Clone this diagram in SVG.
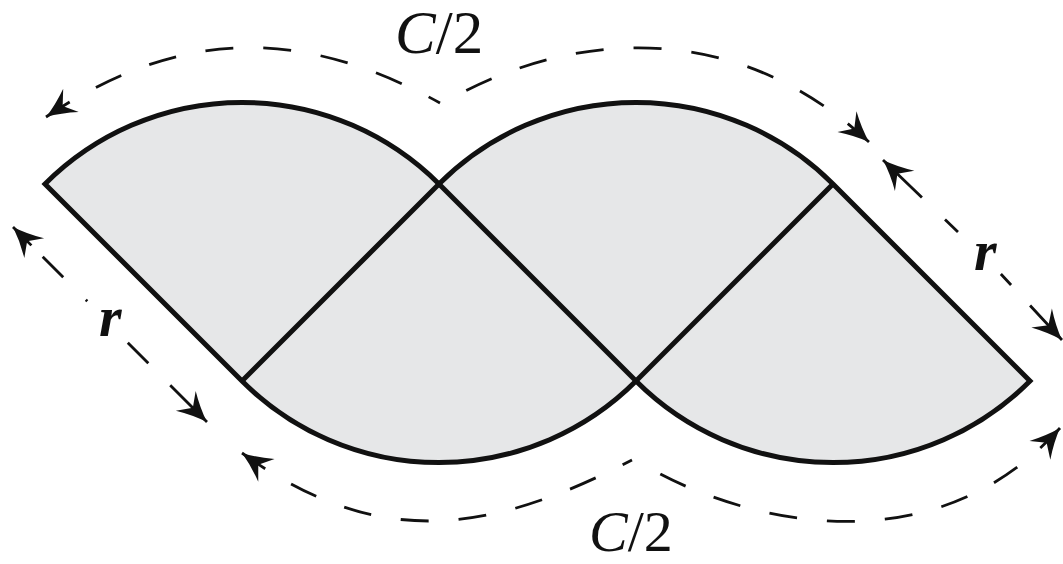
<svg xmlns="http://www.w3.org/2000/svg" width="1063" height="564" viewBox="0 0 1063 564">
<style>
.shape{fill:#e6e7e8;stroke:#111;stroke-width:5;stroke-linejoin:miter}
.inner{fill:none;stroke:#111;stroke-width:5;stroke-linecap:butt}
.dash{fill:none;stroke:#111;stroke-width:2.8;stroke-dasharray:28 30}
.dim{fill:none;stroke:#111;stroke-width:2.8}
.lbl{font-family:"Liberation Serif","Times New Roman",serif;fill:#111}
.r{font-family:"Liberation Serif","Times New Roman",serif;font-weight:bold;font-style:italic;fill:#111}
</style>
<defs>
<marker id="ah" markerUnits="userSpaceOnUse" markerWidth="1" markerHeight="1" refX="0" refY="0" orient="auto-start-reverse" overflow="visible">
<path d="M0,0 Q-15,-5 -30,-14 L-20,0 L-30,14 Q-15,5 0,0 Z" fill="#111"/>
</marker>
</defs>
<g id="shape">
<path class="shape" d="M45,184 A278.6,278.6 0 0 1 439,184 A278.6,278.6 0 0 1 833,184 L1030,381 A278.6,278.6 0 0 1 636,381 A278.6,278.6 0 0 1 242,381 Z"/>
<path class="inner" d="M242,381 L439,184 L636,381 L833,184"/>
</g>
<g id="connectors">
<path id="arc-top-left" class="dash" marker-start="url(#ah)" d="M46,117 C169,35 290,20 440,103"/>
<path id="arc-top-right" class="dash" marker-start="url(#ah)" d="M869,142 C713,-2 535,48 444,103"/>
<path id="arc-bottom-left" class="dash" marker-start="url(#ah)" d="M242,453 C372,546 480,539 632,460"/>
<path id="arc-bottom-right" class="dash" marker-start="url(#ah)" d="M1060,428 C923,580 719,513 636,460"/>
<path id="r-left-a" class="dim" style="stroke-dasharray:26 16 29 32 2 100" marker-start="url(#ah)" d="M13,227 L90,304"/>
<path id="r-left-b" class="dim" style="stroke-dasharray:52 31 29 100" marker-start="url(#ah)" d="M207,422 L125,340"/>
<path id="r-right-a" class="dim" style="stroke-dasharray:54 32 18 100" marker-start="url(#ah)" d="M883,160 L960,234"/>
<path id="r-right-b" class="dim" style="stroke-dasharray:47 28 15 100" marker-start="url(#ah)" d="M1062,340 L1000,273"/>
</g>
<g id="labels">
<text class="lbl" x="395" y="53" font-size="61"><tspan font-style="italic">C</tspan>/2</text>
<text class="lbl" x="589" y="551" font-size="58"><tspan font-style="italic">C</tspan>/2</text>
<text class="r" x="99" y="336" font-size="58">r</text>
<text class="r" x="974" y="270" font-size="58">r</text>
</g>
</svg>
